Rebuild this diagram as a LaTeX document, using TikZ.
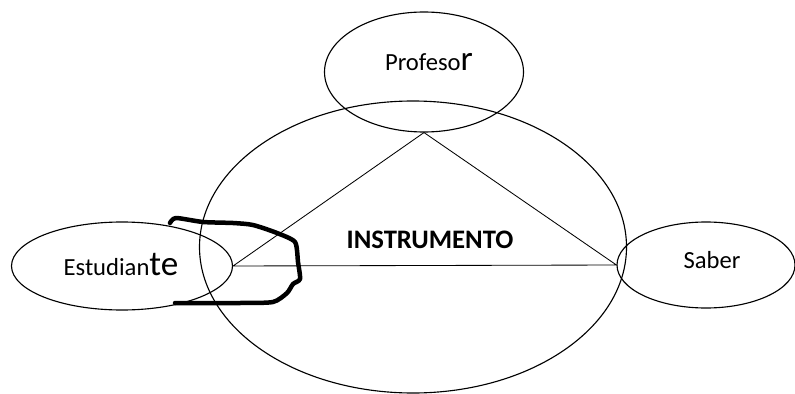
\documentclass[tikz,border=0pt]{standalone}
\usepackage{fontspec}
\setmainfont{Carlito}
\usetikzlibrary{shapes.geometric}

\begin{document}
\begin{tikzpicture}[x=0.025cm, y=-0.025cm,
    elip/.style={draw, ellipse, thick, inner sep=0pt},
    txt/.style={font=\fontsize{17.5}{20}\selectfont}]
      \useasboundingbox (0,0) rectangle (795,394);
      % Ellipses:
      \node[elip, minimum width=427*0.025cm, minimum height=292*0.025cm] (instr) at (413,247) {};
      \node[elip, minimum width=199*0.025cm, minimum height=120*0.025cm] (prof) at (424,72) {};
      \node[elip, minimum width=221*0.025cm, minimum height=88*0.025cm] (est) at (122,266) {};
      \node[elip, minimum width=178*0.025cm, minimum height=86*0.025cm] (saber) at (706,265) {};
      % Labels:
      \node[txt] at (429,62) {Profeso{\fontsize{25}{28}\selectfont r}};
      \node[txt] at (121,265) {Estudian{\fontsize{25}{28}\selectfont te}};
      \node[txt] at (712,260) {Saber};
      \node[txt, font=\fontsize{19}{22}\selectfont\bfseries] (lbl) at (430,240) {INSTRUMENTO};
      % Triangle:
      \draw[semithick] (est.east) -- (prof.south) -- (saber.west) -- (est.east);
      % Scribble:
      \draw[line width=3.2pt, line cap=round, line join=round] plot[smooth, tension=0.4] coordinates {(170,223) (176,218) (203,222) (233,223) (253,225) (277,233) (295,242) (298,262) (300,279) (293,284) (287,293) (273,302) (240,303) (175,303)};
    \end{tikzpicture}
\end{document}
